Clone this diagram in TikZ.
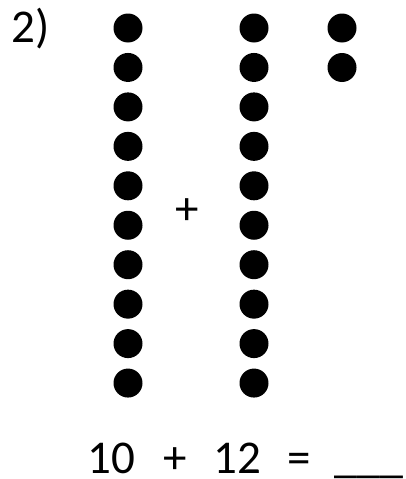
\documentclass[tikz,border=0pt]{standalone}
\usepackage{fontspec}
\setmainfont{Carlito}
\begin{document}
\begin{tikzpicture}[x=1pt,y=-1pt,
  dot/.style={circle,fill=black,inner sep=0pt,minimum size=29pt},
  lbl/.style={inner sep=0pt,anchor=base,font=\fontsize{47}{47}\selectfont}]
\useasboundingbox (0,0) rectangle (405,479);
\foreach \i in {0,...,9} {
  \node[dot] (a\i) at (128,{28+39.45*\i}) {};
  \node[dot] (b\i) at (254,{28+39.45*\i}) {};
}
\node[dot] (c0) at (342,28) {};
\node[dot] (c1) at (342,67.5) {};
\node[lbl] (num) at (31,42) {2)};
\node[lbl] (plus) at (187,224.5) {+};
\node[lbl] (t10) at (111.5,473) {10};
\node[lbl] (tp) at (175,473) {+};
\node[lbl] (t12) at (237.5,473) {12};
\node[lbl] (teq) at (299,473) {=};
\node[lbl,anchor=base west,font=\fontsize{46}{46}\selectfont] (blank) at (334,472) {\_\_\_};
\end{tikzpicture}
\end{document}
